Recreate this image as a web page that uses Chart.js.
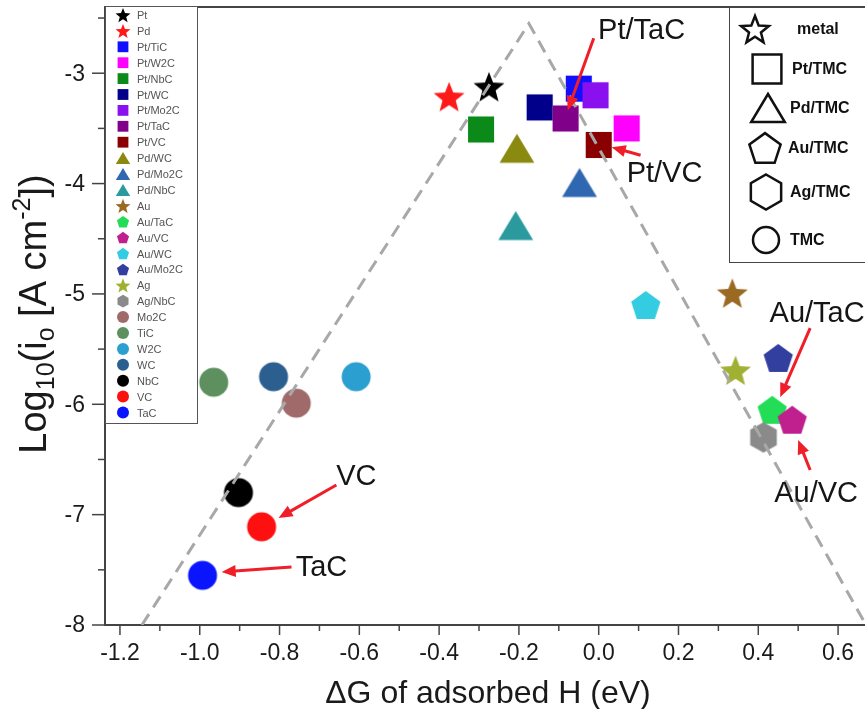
<!DOCTYPE html>
<html>
<head>
<meta charset="utf-8">
<script src="https://cdn.jsdelivr.net/npm/chart.js@4.4.1/dist/chart.umd.min.js"></script>
<style>
  html, body { margin: 0; padding: 0; background: #fff; }
</style>
</head>
<body>
<canvas id="chart" width="865" height="709"></canvas>
<script>
// series, in legend order
var names = ['Pt', 'Pd', 'Pt/TiC', 'Pt/W2C', 'Pt/NbC', 'Pt/WC', 'Pt/Mo2C', 'Pt/TaC', 'Pt/VC',
  'Pd/WC', 'Pd/Mo2C', 'Pd/NbC', 'Au', 'Au/TaC', 'Au/VC', 'Au/WC', 'Au/Mo2C', 'Ag', 'Ag/NbC',
  'Mo2C', 'TiC', 'W2C', 'WC', 'NbC', 'VC', 'TaC'];
var dG = [-0.275, -0.375, -0.05, 0.07, -0.295, -0.148, -0.008, -0.083, 0.0,
  -0.205, -0.048, -0.208, 0.335, 0.435, 0.485, 0.118, 0.45, 0.343, 0.413,
  -0.758, -0.965, -0.608, -0.815, -0.903, -0.845, -0.993];
var logI0 = [-3.12, -3.21, -3.14, -3.50, -3.51, -3.31, -3.20, -3.41, -3.65,
  -3.68, -3.99, -4.38, -4.99, -6.05, -6.14, -5.10, -5.58, -5.69, -6.30,
  -5.99, -5.80, -5.75, -5.75, -6.80, -7.11, -7.55];
var shapes = ['star', 'star', 'square', 'square', 'square', 'square', 'square', 'square', 'square',
  'triangle', 'triangle', 'triangle', 'star', 'pentagon', 'pentagon', 'pentagon', 'pentagon', 'star', 'hexagon',
  'circle', 'circle', 'circle', 'circle', 'circle', 'circle', 'circle'];
var colors = ['#000000', '#ff1a1a', '#1010ff', '#ff00ff', '#0b8a1a', '#00008a', '#8a10f0', '#80008a', '#8a0000',
  '#8a8a10', '#2f67b0', '#2a9a9e', '#9a6a22', '#22dd55', '#c01f8e', '#33cce0', '#323f9e', '#a0b032', '#8a8a8a',
  '#a06a6a', '#5e8f5e', '#2a9fd0', '#2b5f8f', '#000000', '#ff1010', '#0a14ff'];

// volcano guide line
var volcanoX = [-1.145, -0.175, 0.67];
var volcanoY = [-8, -2.55, -8];

// shape legend (right box)
var shapeKeys = ['star', 'square', 'triangle', 'pentagon', 'hexagon', 'circle'];
var shapeLabels = ['metal', 'Pt/TMC', 'Pd/TMC', 'Au/TMC', 'Ag/TMC', 'TMC'];

// text callouts with red arrows
var notes = [
  { text: 'Pt/TaC', tx: 0.1075, ty: -2.62, from: [-0.0125, -2.683], to: [-0.0775, -3.335] },
  { text: 'Pt/VC', tx: 0.165, ty: -3.915, from: [0.105, -3.743], to: [0.0325, -3.67] },
  { text: 'Au/TaC', tx: 0.5475, ty: -5.18, from: [0.53, -5.31], to: [0.455, -5.935] },
  { text: 'Au/VC', tx: 0.545, ty: -6.81, from: [0.53, -6.596], to: [0.5, -6.324] },
  { text: 'VC', tx: -0.6075, ty: -6.66, from: [-0.6575, -6.732], to: [-0.8025, -7.03] },
  { text: 'TaC', tx: -0.695, ty: -7.48, from: [-0.77, -7.475], to: [-0.945, -7.52] }
];

var FONT = '"Liberation Sans", Arial, sans-serif';

function shapePath(g, shape, cx, cy, s) {
  var k, a, r;
  g.beginPath();
  if (shape === 'circle') {
    g.arc(cx, cy, s / 2, 0, Math.PI * 2);
  } else if (shape === 'square') {
    g.rect(cx - s * 0.45, cy - s * 0.45, s * 0.9, s * 0.9);
  } else if (shape === 'triangle') {
    g.moveTo(cx, cy - s * 0.5);
    g.lineTo(cx + s * 0.6, cy + s * 0.5);
    g.lineTo(cx - s * 0.6, cy + s * 0.5);
  } else if (shape === 'star') {
    for (k = 0; k < 10; k++) {
      r = k % 2 ? s * 0.24 : s * 0.56;
      a = -Math.PI / 2 + k * Math.PI / 5;
      g.lineTo(cx + r * Math.cos(a), cy + s * 0.06 + r * Math.sin(a));
    }
  } else {
    var m = shape === 'pentagon' ? 5 : 6;
    r = s * 0.53;
    for (k = 0; k < m; k++) {
      a = -Math.PI / 2 + k * 2 * Math.PI / m;
      g.lineTo(cx + r * Math.cos(a), cy + (m === 5 ? s * 0.05 : 0) + r * Math.sin(a));
    }
  }
  g.closePath();
}

function marker(shape, color, s) {
  var c = document.createElement('canvas');
  c.width = c.height = Math.ceil(s * 1.3) + 4;
  var g = c.getContext('2d');
  shapePath(g, shape, c.width / 2, c.height / 2, s);
  g.fillStyle = color;
  g.fill();
  return c;
}

var datasets = [{
  data: volcanoX.map(function (x, i) { return { x: x, y: volcanoY[i] }; }),
  showLine: true,
  borderColor: '#a8a8a8',
  borderWidth: 3,
  borderDash: [13, 8],
  pointRadius: 0,
  order: 0
}];
for (var i = 0; i < names.length; i++) {
  datasets.push({
    label: names[i],
    data: [{ x: dG[i], y: logI0[i] }],
    pointStyle: marker(shapes[i], colors[i], 29),
    pointRadius: 15,
    order: 100 - i
  });
}

function xLabel(v) {
  return Math.abs(v * 5 - Math.round(v * 5)) < 1e-6 ? v.toFixed(1) : '';
}
function yLabel(v) {
  return Math.abs(v - Math.round(v)) < 1e-6 ? String(Math.round(v)) : '';
}

function arrow(ctx, x1, y1, x2, y2) {
  var ang = Math.atan2(y2 - y1, x2 - x1), hl = 14, hw = 6;
  ctx.beginPath();
  ctx.moveTo(x1, y1);
  ctx.lineTo(x2 - hl * 0.7 * Math.cos(ang), y2 - hl * 0.7 * Math.sin(ang));
  ctx.stroke();
  ctx.beginPath();
  ctx.moveTo(x2, y2);
  ctx.lineTo(x2 - hl * Math.cos(ang) + hw * Math.sin(ang), y2 - hl * Math.sin(ang) - hw * Math.cos(ang));
  ctx.lineTo(x2 - hl * Math.cos(ang) - hw * Math.sin(ang), y2 - hl * Math.sin(ang) + hw * Math.cos(ang));
  ctx.closePath();
  ctx.fill();
}

var decor = {
  id: 'decor',
  afterDraw: function (chart) {
    var ctx = chart.ctx, xs = chart.scales.x, ys = chart.scales.y, a = chart.chartArea;
    ctx.save();

    // top frame
    ctx.strokeStyle = '#444';
    ctx.lineWidth = 2;
    ctx.beginPath();
    ctx.moveTo(a.left, a.top);
    ctx.lineTo(a.right, a.top);
    ctx.stroke();

    // tick marks and labels, long ticks on labelled values
    ctx.lineWidth = 1.5;
    ctx.fillStyle = '#1a1a1a';
    ctx.font = '23px ' + FONT;
    ctx.textAlign = 'center';
    ctx.textBaseline = 'middle';
    xs.ticks.forEach(function (t) {
      var px = xs.getPixelForValue(t.value), lab = xLabel(t.value);
      ctx.beginPath();
      ctx.moveTo(px, a.bottom);
      ctx.lineTo(px, a.bottom + (lab ? 10 : 6));
      ctx.stroke();
      if (lab) ctx.fillText(lab, px, 654);
    });
    ctx.textAlign = 'right';
    ys.ticks.forEach(function (t) {
      var py = ys.getPixelForValue(t.value), lab = yLabel(t.value);
      ctx.beginPath();
      ctx.moveTo(a.left, py);
      ctx.lineTo(a.left - (lab ? 13 : 7), py);
      ctx.stroke();
      if (lab) ctx.fillText(lab, 85, py + 1);
    });

    // callouts
    ctx.strokeStyle = '#f01e28';
    ctx.fillStyle = '#f01e28';
    ctx.lineWidth = 3;
    notes.forEach(function (n) {
      arrow(ctx, xs.getPixelForValue(n.from[0]), ys.getPixelForValue(n.from[1]),
        xs.getPixelForValue(n.to[0]), ys.getPixelForValue(n.to[1]));
    });
    ctx.fillStyle = '#151515';
    ctx.font = '29px ' + FONT;
    ctx.textAlign = 'center';
    ctx.textBaseline = 'middle';
    notes.forEach(function (n) {
      ctx.fillText(n.text, xs.getPixelForValue(n.tx), ys.getPixelForValue(n.ty));
    });

    // series legend (left box)
    ctx.fillStyle = '#fff';
    ctx.fillRect(a.left, 6, 92, 417);
    ctx.strokeStyle = '#555';
    ctx.lineWidth = 1;
    ctx.strokeRect(a.left + 0.5, 6.5, 92, 417);
    ctx.font = '11px ' + FONT;
    ctx.textAlign = 'left';
    names.forEach(function (nm, i) {
      var y = 15 + i * 15.9;
      shapePath(ctx, shapes[i], 123, y, shapes[i] === 'star' ? 14 : 12);
      ctx.fillStyle = colors[i];
      ctx.fill();
      ctx.fillStyle = '#555';
      ctx.fillText(nm, 137, y + 1);
    });

    // shape legend (right box)
    ctx.fillStyle = '#fff';
    ctx.fillRect(729, 7, 140, 255);
    ctx.strokeStyle = '#444';
    ctx.strokeRect(729.5, 7.5, 140, 255);
    var sy = [29, 69, 108, 148, 192, 240], sx = [755, 767, 768, 765, 766, 766],
      ss = [26, 32, 28, 31, 33, 26], lx = [797, 792, 790, 788, 790, 790];
    ctx.strokeStyle = '#111';
    ctx.lineWidth = 2.5;
    ctx.fillStyle = '#111';
    ctx.font = 'bold 16px ' + FONT;
    shapeKeys.forEach(function (k, i) {
      shapePath(ctx, k, sx[i], sy[i], ss[i]);
      ctx.stroke();
      ctx.fillText(shapeLabels[i], lx[i], sy[i] + 1);
    });

    // axis titles
    ctx.fillStyle = '#1a1a1a';
    ctx.textBaseline = 'alphabetic';
    ctx.textAlign = 'center';
    ctx.font = '32px ' + FONT;
    ctx.fillText('\u0394G of adsorbed H (eV)', 488, 703);

    var parts = [['Log', 0, 38], ['10', 8, 25], ['(i', 0, 38], ['o', 8, 25], [' [A cm', 0, 38], ['-2', -16, 25], ['])', 0, 38]];
    var w = 0;
    ctx.textAlign = 'left';
    parts.forEach(function (p) { ctx.font = p[2] + 'px ' + FONT; w += ctx.measureText(p[0]).width; });
    ctx.translate(46, 314);
    ctx.rotate(-Math.PI / 2);
    var x = -w / 2;
    parts.forEach(function (p) {
      ctx.font = p[2] + 'px ' + FONT;
      ctx.fillText(p[0], x, p[1]);
      x += ctx.measureText(p[0]).width;
    });
    ctx.restore();
  }
};

new Chart(document.getElementById('chart'), {
  type: 'scatter',
  data: { datasets: datasets },
  options: {
    responsive: false,
    animation: false,
    events: [],
    layout: { autoPadding: false, padding: { top: 7, right: 0, left: 0, bottom: 0 } },
    plugins: { legend: { display: false }, tooltip: { enabled: false } },
    scales: {
      x: {
        min: -1.2375,
        max: 0.6675,
        grid: { display: false },
        border: { color: '#444', width: 2 },
        ticks: { stepSize: 0.1, includeBounds: false, display: false },
        afterFit: function (s) { s.height = 84; }
      },
      y: {
        min: -8,
        max: -2.4,
        grid: { display: false },
        border: { color: '#444', width: 2 },
        ticks: { stepSize: 0.5, includeBounds: false, display: false },
        afterFit: function (s) { s.width = 105; }
      }
    }
  },
  plugins: [decor]
});
</script>
</body>
</html>
